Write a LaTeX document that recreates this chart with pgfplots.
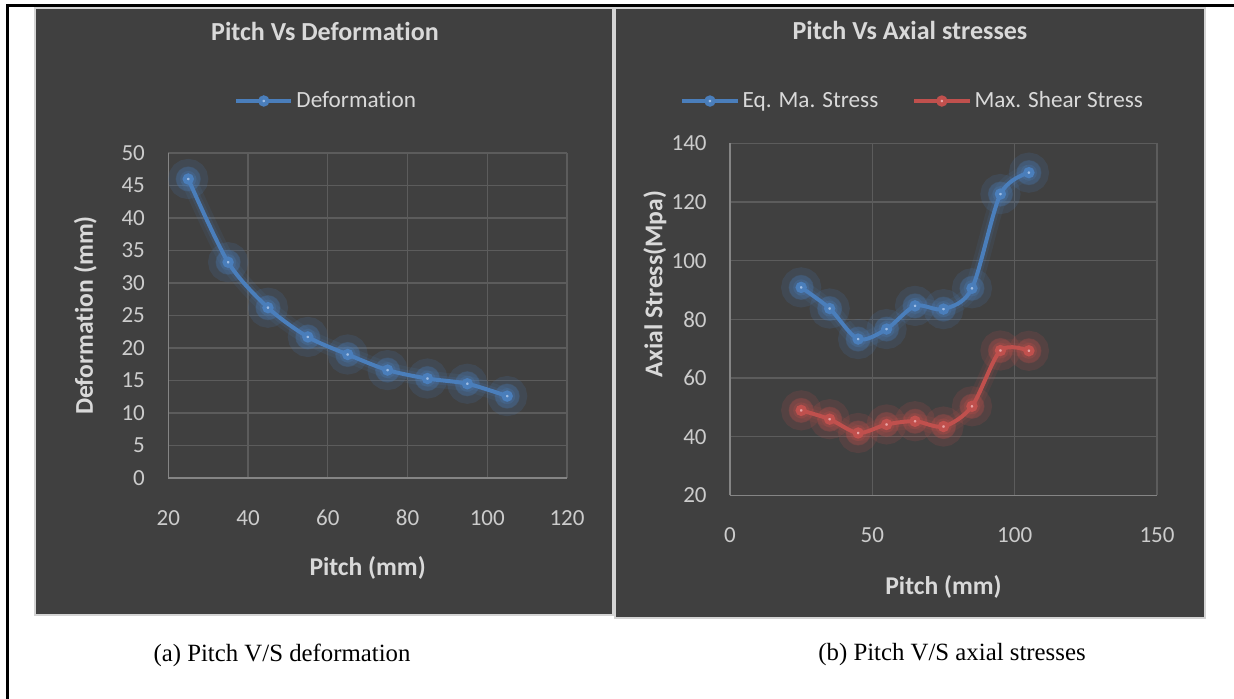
\documentclass[border=0pt]{standalone}
\usepackage{pgfplots}
\pgfplotsset{compat=1.18}
\usepackage{fontspec}
\setmainfont{Carlito}[Ligatures=NoCommon]
\newfontfamily\capfont{Liberation Serif}
\definecolor{bg}{HTML}{404040}
\definecolor{pborder}{HTML}{D4D4D4}
\definecolor{txt}{HTML}{D9D9D9}
\definecolor{tick}{HTML}{CCCCCC}
\definecolor{gridc}{HTML}{5C5C5C}
\definecolor{axc}{HTML}{858585}
\definecolor{bline}{HTML}{4A7EBB}
\definecolor{bmark}{HTML}{9DBCE4}
\definecolor{rline}{HTML}{C0504D}
\definecolor{rmark}{HTML}{E8A3A3}
\pgfplotsset{
  dark/.style={
    scale only axis,
    axis background/.style={fill=bg},
    axis x line*=bottom, axis y line*=left,
    axis line style={draw=axc, line width=0.6pt},
    grid=major,
    major grid style={draw=gridc, line width=0.6pt},
    major tick length=0pt,
    tick style={draw=none},
    /pgf/number format/assume math mode=true,
    ticklabel style={font=\fontsize{11.5}{13}\selectfont, text=tick},
    yticklabel style={anchor=east, inner sep=0pt, xshift=-11.5pt},
    xticklabel style={anchor=center, inner sep=0pt, yshift=-20pt},
    label style={font=\bfseries\fontsize{12.8}{15}\selectfont, text=txt},
    title style={font=\bfseries\fontsize{13}{15}\selectfont, text=txt},
    legend style={draw=none, fill=none, text=txt, font=\fontsize{11.6}{14}\selectfont,
      inner sep=0pt, nodes={inner sep=0pt}, column sep=1.6pt},
    legend cell align=left,
    legend image code/.code={\draw[mark repeat=2,mark phase=2,##1] plot coordinates {(0pt,0pt)(13.75pt,0pt)(27.5pt,0pt)};},
    clip=false,
  },
  glowA/.style={forget plot, smooth, draw=#1, line width=8pt, opacity=0.10,
    mark=*, mark size=6pt, mark options={draw=none, fill=#1, opacity=0.16}},
  glowB/.style={forget plot, smooth, draw=#1, line width=4.5pt, opacity=0.14,
    mark=*, mark size=4pt, mark options={draw=none, fill=#1, opacity=0.22}},
  mainb/.style={smooth, draw=bline, line width=2pt, mark=*, mark size=1.8pt, mark options={draw=none, fill=bmark}},
  mainr/.style={smooth, draw=rline, line width=2pt, mark=*, mark size=1.8pt, mark options={draw=none, fill=rmark}},
}
\begin{document}
\begin{tikzpicture}
\useasboundingbox (0pt,0pt) rectangle (617pt,349.5pt);
\fill[white] (0pt,0pt) rectangle (617pt,349.5pt);
% panels
\filldraw[fill=bg, draw=pborder, line width=1pt] (17.5pt,42pt) rectangle (306.5pt,345.5pt);
\filldraw[fill=bg, draw=pborder, line width=1pt] (307.5pt,40.5pt) rectangle (602.5pt,345.5pt);
% frame
\draw[black, line width=1.5pt] (3.5pt,0pt) -- (3.5pt,346.5pt) -- (617pt,346.5pt);

% ---------- left chart ----------
\begin{axis}[dark,
  anchor=south west, at={(84.15pt,110.5pt)}, width=199.35pt, height=162.5pt,
  xmin=20, xmax=120, ymin=0, ymax=50,
  xtick={20,40,...,120}, ytick={0,5,...,50},
  title={Pitch Vs Deformation},
  title style={at={(axis description cs:0.393,1.338)}, anchor=center},
  xlabel={Pitch (mm)},
  xlabel style={at={(axis description cs:0.5,-0.277)}, anchor=center},
  ylabel={Deformation (mm)},
  ylabel style={at={(axis description cs:-0.208,0.5)}, anchor=center},
  legend style={at={(axis description cs:0.1645,1.16)}, anchor=west},
]
\addplot[glowA=bline] coordinates {(25,46.0)(35,33.2)(45,26.2)(55,21.7)(65,19.0)(75,16.6)(85,15.3)(95,14.5)(105,12.6)};
\addplot[glowB=bline] coordinates {(25,46.0)(35,33.2)(45,26.2)(55,21.7)(65,19.0)(75,16.6)(85,15.3)(95,14.5)(105,12.6)};
\addplot[mainb]
  coordinates {(25,46.0)(35,33.2)(45,26.2)(55,21.7)(65,19.0)(75,16.6)(85,15.3)(95,14.5)(105,12.6)};
\addlegendentry{Deformation}
\end{axis}

% ---------- right chart ----------
\begin{axis}[dark,
  anchor=south west, at={(365pt,101.75pt)}, width=213.5pt, height=176.1pt,
  xmin=0, xmax=150, ymin=20, ymax=140,
  xtick={0,50,100,150}, ytick={20,40,...,140},
  title={Pitch Vs Axial stresses},
  title style={at={(axis description cs:0.4215,1.285)}, anchor=center},
  xlabel={Pitch (mm)},
  xlabel style={at={(axis description cs:0.5,-0.26)}, anchor=center},
  ylabel={Axial Stress(Mpa)},
  ylabel style={at={(axis description cs:-0.176,0.6005)}, anchor=center},
  legend columns=-1,
  legend style={at={(axis description cs:-0.117,1.12)}, anchor=west, /tikz/every even column/.append style={column sep=17pt}},
]
\addplot[glowA=bline] coordinates {(25,90.9)(35,83.7)(45,73.3)(55,76.7)(65,84.6)(75,83.5)(85,90.6)(95,122.7)(105,130.0)};
\addplot[glowB=bline] coordinates {(25,90.9)(35,83.7)(45,73.3)(55,76.7)(65,84.6)(75,83.5)(85,90.6)(95,122.7)(105,130.0)};
\addplot[mainb]
  coordinates {(25,90.9)(35,83.7)(45,73.3)(55,76.7)(65,84.6)(75,83.5)(85,90.6)(95,122.7)(105,130.0)};
\addlegendentry{Eq. Ma. Stress}
\addplot[glowA=rline] coordinates {(25,49.0)(35,46.0)(45,41.3)(55,44.2)(65,45.3)(75,43.5)(85,50.4)(95,69.4)(105,69.3)};
\addplot[glowB=rline] coordinates {(25,49.0)(35,46.0)(45,41.3)(55,44.2)(65,45.3)(75,43.5)(85,50.4)(95,69.4)(105,69.3)};
\addplot[mainr]
  coordinates {(25,49.0)(35,46.0)(45,41.3)(55,44.2)(65,45.3)(75,43.5)(85,50.4)(95,69.4)(105,69.3)};
\addlegendentry{Max. Shear Stress}
\end{axis}

% captions
\node[font=\capfont\fontsize{12.4}{14}\selectfont, text=black] at (141pt,22pt) {(a) Pitch V/S deformation};
\node[font=\capfont\fontsize{12.4}{14}\selectfont, text=black] at (476pt,22pt) {(b) Pitch V/S axial stresses};
\end{tikzpicture}
\end{document}
